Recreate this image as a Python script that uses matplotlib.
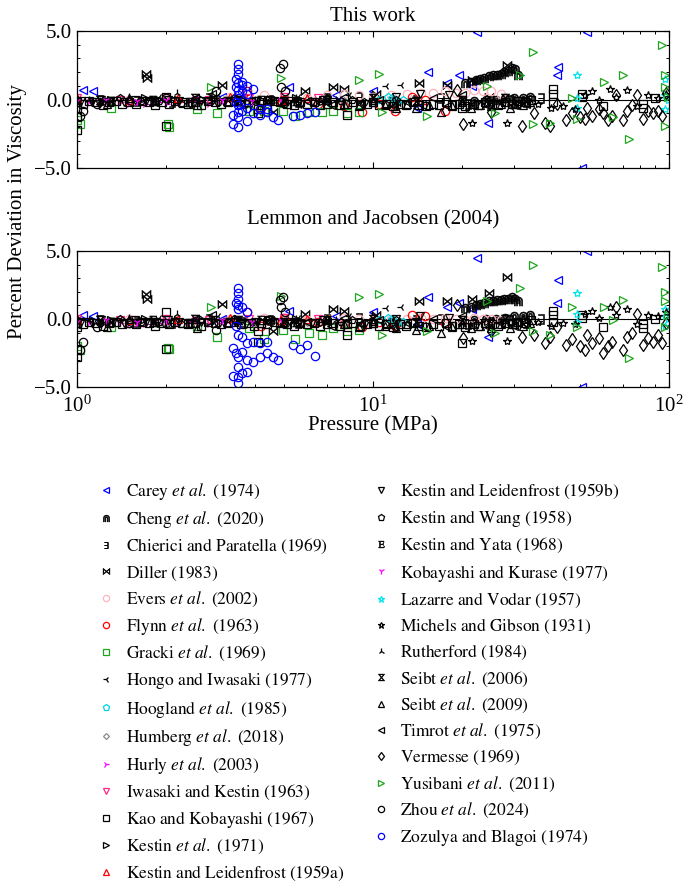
import matplotlib
matplotlib.use("Agg")
import matplotlib.pyplot as plt
from matplotlib.markers import MarkerStyle
from matplotlib.transforms import Affine2D
from matplotlib.ticker import MultipleLocator, FuncFormatter, LogLocator, NullFormatter

plt.rcParams['font.family'] = ['Liberation Serif', 'DejaVu Serif']
plt.rcParams['mathtext.fontset'] = 'stix'

# pressure (MPa) and percent deviations: tw = this work, lj = Lemmon and Jacobsen (2004)
carey_p = [1.05, 1.13, 3.1, 5.2, 7.5, 10.0, 14.1, 15.4, 17.8, 19.5, 21.6, 22.5, 24.5, 42.0, 42.2, 50.8, 52.8]
carey_tw = [0.7, 0.6, 0.2, 0.9, 0.3, 0.6, -0.6, 2.0, 1.2, 1.8, 1.0, 4.9, -1.7, 1.8, 2.4, -5.0, 4.9]
carey_lj = [0.3, 0.2, 0.0, 0.6, 0.2, 0.5, -0.4, 1.6, 0.9, 1.2, 0.7, 4.5, -1.3, 1.2, 2.9, -5.0, 5.0]

cheng_p = [20.5, 21.5, 22.3, 23.0, 23.8, 24.6, 25.4, 26.2, 27.0, 27.8, 28.6, 29.4, 30.2, 31.0,
           20.0, 22.0, 24.0, 26.0, 28.0, 30.0, 32.0, 34.0]
cheng_tw = [1.2, 1.3, 1.4, 1.5, 1.6, 1.7, 1.8, 1.8, 1.9, 2.0, 2.1, 2.3, 2.2, 1.8,
            -0.1, -0.1, 0.0, 0.0, 0.1, 0.1, 0.1, 0.2]
cheng_lj = [0.8, 0.9, 1.0, 1.1, 1.2, 1.3, 1.3, 1.4, 1.4, 1.5, 1.5, 1.6, 1.5, 1.3,
            -0.2, -0.1, 0.0, 0.0, 0.1, 0.2, 0.2, 0.3]

chierici_p = [1.2, 1.6, 2.1, 2.8, 3.6, 4.5, 5.6, 7.0, 9.0, 11.5, 14.0, 17.0, 21.0, 25.0, 29.0, 33.0, 37.0]
chierici_tw = [0.0, -0.1, -0.2, 0.1, -0.1, 0.0, -0.2, 0.1, 0.2, -0.2, 0.0, 0.1, -0.3, -0.1, 0.0, -0.2, 0.1]
chierici_lj = [-0.1, -0.2, -0.3, 0.0, -0.2, -0.1, -0.3, 0.0, 0.1, -0.3, -0.1, 0.0, -0.4, -0.2, -0.1, -0.3, 0.0]

diller_p = [1.71, 1.73, 3.09, 4.6, 5.9, 7.3, 8.0, 10.2, 12.0, 14.3, 17.8, 21.6, 24.7, 28.3, 30.5]
diller_tw = [1.9, 1.6, 1.1, -0.9, 0.6, 0.9, 0.8, 0.4, -0.2, 1.2, 1.1, 1.4, 0.2, 2.5, -0.4]
diller_lj = [1.8, 1.5, 1.1, -0.9, 0.4, 0.7, 0.6, 0.3, -0.2, 1.3, 1.3, 1.5, 1.9, 3.1, -0.3]

evers_p = [1.5, 2.0, 2.5, 3.3, 4.3, 5.0, 6.0, 7.0, 8.0, 9.0, 10.0, 11.5, 13.0, 14.5, 16.0, 17.5, 19.0,
           20.5, 22.0, 23.5, 25.0, 27.0]
evers_tw = [0.0, 0.1, 0.0, 0.2, 0.3, 0.2, 0.1, 0.3, 0.4, 0.3, 0.2, 0.3, 0.4, 0.5, 0.5, 0.6, 0.5,
            0.5, 0.7, 0.6, 0.6, 0.4]
evers_lj = [0.0, 0.0, -0.1, 0.0, 0.1, 0.0, -0.1, 0.0, 0.1, 0.0, -0.1, 0.0, 0.0, 0.1, 0.0, 0.1, 0.0,
            -0.1, 0.1, 0.0, 0.0, -0.1]

flynn_p = [3.75, 4.2, 5.0, 6.5, 8.0, 9.2, 10.5, 11.9, 13.5, 15.0, 17.5]
flynn_tw = [0.6, -0.6, 0.0, -0.3, -0.5, -0.9, -0.3, -0.8, 0.2, 0.0, -0.8]
flynn_lj = [0.5, -0.5, 0.1, -0.2, -0.4, -0.6, -0.2, -0.5, 0.3, 0.2, -0.3]

gracki_p = [1.0, 1.02, 1.30, 2.03, 2.05, 2.55, 2.97, 3.80, 4.3, 4.95, 5.45, 6.1, 6.7, 7.3, 8.2, 9.0]
gracki_tw = [-1.5, -1.8, -0.6, -1.8, -2.0, -0.7, -1.0, -0.8, -0.8, -0.8, -1.2, -0.9, -0.9, -0.8, -1.0, -0.9]
gracki_lj = [-2.0, -2.3, -0.6, -2.1, -2.2, -0.5, -1.3, -0.7, -1.5, -0.8, -1.5, -1.0, -1.2, -0.7, -0.9, -0.8]

hongo_p = [1.1, 1.4, 1.9, 2.4, 3.0, 3.7, 4.6, 5.6, 6.8, 8.3, 10.0, 11.1, 12.4]
hongo_tw = [-0.1, 0.0, 0.2, -0.1, 0.3, 0.1, 0.0, 0.2, -0.2, 0.3, 0.1, 1.0, 1.1]
hongo_lj = [-0.1, 0.0, 0.1, -0.2, 0.2, 0.0, -0.1, 0.1, -0.2, 0.2, 0.1, 0.8, 0.9]

hoogland_p = [10.5, 11.2, 11.6, 12.0, 12.6]
hoogland_tw = [0.0, 0.2, 0.1, -0.1, 0.0]
hoogland_lj = [-0.1, 0.1, 0.0, -0.3, -0.2]

humberg_p = [1.0, 1.5, 2.0, 2.5, 3.0, 4.0, 5.0, 6.0, 7.0, 8.0]
humberg_tw = [-0.1, -0.1, 0.0, -0.2, -0.1, 0.0, -0.1, 0.0, 0.1, -0.1]
humberg_lj = [-0.3, -0.4, -0.3, -0.4, -0.3, -0.2, -0.3, -0.2, -0.1, -0.3]

hurly_p = [1.0, 1.1, 1.2, 1.3, 1.4, 1.5, 1.6, 1.7, 1.8, 1.9, 2.0, 2.2, 2.4, 2.6, 2.8, 3.0, 3.2]
hurly_tw = [-0.3, -0.2, -0.3, -0.1, -0.2, -0.3, -0.2, -0.3, -0.1, -0.2, -0.3, -0.2, -0.1, -0.2, -0.3, -0.2, -0.1]
hurly_lj = [-0.4, -0.3, -0.4, -0.2, -0.3, -0.4, -0.3, -0.4, -0.2, -0.3, -0.4, -0.3, -0.2, -0.3, -0.4, -0.3, -0.2]

iwasaki_p = [1.0, 1.4, 2.0, 2.8, 3.8, 5.0, 6.5]
iwasaki_tw = [0.1, 0.0, 0.1, 0.0, 0.1, 0.2, 0.1]
iwasaki_lj = [0.0, -0.1, 0.0, -0.1, 0.0, 0.1, 0.0]

kao_p = [1.00, 1.05, 1.10, 1.16, 1.22, 1.28, 1.35, 1.42, 1.50, 1.58,
         1.66, 1.75, 1.84, 1.94, 2.04, 2.15, 2.26, 2.38, 2.50, 2.63,
         2.77, 2.92, 3.07, 3.23, 3.40, 3.58, 3.77, 3.97, 4.18, 4.40,
         4.63, 4.87, 5.13, 5.40, 5.68, 5.98, 6.30, 6.63, 6.98, 7.35,
         7.74, 8.15, 8.58, 9.03, 9.51, 10.0, 10.5, 11.1, 11.7, 12.3,
         12.9, 13.6, 14.3, 15.1, 15.9, 16.7, 17.6, 18.5, 19.5, 20.5,
         21.6, 22.7, 23.9, 25.2, 26.5, 27.9, 29.4, 30.9, 32.5, 34.2,
         1.0, 1.0, 1.0, 2.0, 2.0, 4.1, 4.1, 8.2, 20.0,
         40.7, 40.7, 40.7, 50.8, 50.8, 60.0, 81.5, 81.5, 90.0]
kao_tw = [-0.2, -0.3, -0.1, -0.2, -0.4, -0.2, -0.1, -0.3, -0.2, -0.3,
          -0.1, -0.2, -0.4, -0.2, -0.3, -0.1, -0.2, -0.3, -0.2, -0.4,
          -0.1, -0.2, -0.3, -0.2, -0.1, -0.3, -0.2, -0.4, -0.2, -0.3,
          -0.1, -0.2, -0.3, -0.4, -0.2, -0.3, -0.2, -0.4, -0.3, -0.2,
          -0.4, -0.3, -0.2, -0.4, -0.3, -0.2, -0.4, -0.3, -0.5, -0.3,
          -0.4, -0.2, -0.4, -0.5, -0.3, -0.4, -0.2, -0.4, -0.3, -0.5,
          -0.3, -0.4, -0.2, -0.3, -0.4, -0.2, -0.3, -0.1, -0.2, 0.0,
          -0.6, -1.3, -2.2, -1.9, 0.2, -0.7, -1.0, -1.1, -0.6,
          0.8, 0.4, -0.2, 0.4, 0.2, -0.5, -0.3, -0.6, 0.1]
kao_lj = [-0.3, -0.4, -0.2, -0.3, -0.5, -0.3, -0.2, -0.4, -0.3, -0.4,
          -0.2, -0.3, -0.5, -0.3, -0.4, -0.2, -0.3, -0.4, -0.3, -0.5,
          -0.2, -0.3, -0.4, -0.3, -0.2, -0.4, -0.3, -0.5, -0.3, -0.4,
          -0.2, -0.3, -0.4, -0.5, -0.3, -0.4, -0.3, -0.5, -0.4, -0.3,
          -0.5, -0.4, -0.3, -0.5, -0.4, -0.3, -0.5, -0.4, -0.6, -0.4,
          -0.5, -0.3, -0.5, -0.6, -0.4, -0.5, -0.3, -0.5, -0.4, -0.6,
          -0.4, -0.5, -0.3, -0.4, -0.5, -0.3, -0.4, -0.2, -0.3, -0.1,
          -0.6, -2.2, -2.8, -2.2, 0.5, -1.7, -0.9, -1.2, -1.8,
          0.6, 0.3, -0.2, 0.3, 0.1, -0.6, -0.4, -0.7, 0.0]

kestin71_p = [1.0, 1.3, 1.7, 2.2, 2.8, 3.5, 4.5, 5.5, 6.8]
kestin71_tw = [-0.1, 0.0, 0.1, 0.0, -0.1, 0.1, 0.0, 0.1, -0.1]
kestin71_lj = [-0.2, -0.1, 0.0, -0.1, -0.2, 0.0, -0.1, 0.0, -0.2]

kl59a_p = [1.0, 1.5, 2.2, 3.3, 4.9, 6.0]
kl59a_tw = [0.1, 0.0, 0.1, 0.2, 0.0, 0.1]
kl59a_lj = [0.0, -0.1, 0.0, 0.1, -0.1, 0.0]

kl59b_p = [1.03, 1.12, 1.21, 1.32, 1.44, 1.57, 1.71, 1.86, 2.03, 2.21,
           2.41, 2.63, 2.87, 3.13, 3.41, 3.72, 4.05, 4.42, 4.82, 5.25,
           5.72, 6.24, 6.80, 12.0, 14.4, 18.0]
kl59b_tw = [-0.1, -0.2, 0.0, -0.1, -0.2, 0.0, -0.1, -0.2, 0.0, -0.1,
            -0.3, -0.1, 0.0, -0.2, -0.1, -0.3, -0.1, 0.0, -0.2, -0.1,
            -0.3, -0.2, 0.0, 0.2, 0.4, 0.3]
kl59b_lj = [-0.2, -0.3, -0.1, -0.2, -0.3, -0.1, -0.2, -0.3, -0.1, -0.2,
            -0.4, -0.2, -0.1, -0.3, -0.2, -0.4, -0.2, -0.1, -0.3, -0.2,
            -0.4, -0.3, -0.1, 0.0, 0.2, 0.1]

kwang_p = [1.0, 1.2, 1.4, 1.65, 1.9, 2.25, 2.6, 3.0, 3.4, 3.9, 4.4, 5.0, 5.6, 6.3, 7.0, 7.8, 8.5, 9.3, 10.0, 11.0, 12.0]
kwang_tw = [0.0, -0.2, 0.1, -0.1, -0.1, -0.3, 0.0, -0.2, 0.1, -0.1, 0.0, -0.3, -0.1, -0.2, 0.1, -0.1, 0.0, -0.2, -0.1, -0.3, 0.0]
kwang_lj = [-0.1, -0.3, 0.0, -0.2, -0.2, -0.4, -0.1, -0.3, 0.0, -0.2, -0.1, -0.4, -0.2, -0.3, 0.0, -0.2, -0.1, -0.3, -0.2, -0.4, -0.1]

kyata_p = [1.0, 1.3, 1.8, 2.4, 3.2, 4.2, 5.5]
kyata_tw = [-0.2, -0.1, 0.0, -0.2, -0.1, 0.0, -0.1]
kyata_lj = [-0.3, -0.2, -0.1, -0.3, -0.2, -0.1, -0.2]

kobayashi_p = [1.0, 1.25, 1.6, 2.0, 2.5, 3.1, 3.9, 4.9]
kobayashi_tw = [-0.1, 0.0, -0.1, 0.0, 0.1, 0.0, -0.1, 0.0]
kobayashi_lj = [-0.2, -0.1, -0.2, -0.1, 0.0, -0.1, -0.2, -0.1]

lazarre_p = [48.8, 48.8, 48.8, 97.0, 97.0, 97.0, 99.5]
lazarre_tw = [1.8, 0.1, -0.6, 1.5, 0.3, -0.7, 0.0]
lazarre_lj = [1.9, 0.4, -0.2, 0.7, 0.2, -0.5, 0.0]

michels_p = [21.6, 24.0, 28.3, 32.0, 36.0, 40.0, 44.0, 48.0, 52.0, 55.0, 58.0, 63.0, 66.0, 72.0, 78.0, 85.0, 92.0, 98.0]
michels_tw = [-1.7, -0.3, -1.7, -0.1, -0.3, -0.6, -0.5, -0.7, 0.3, 0.6, 0.0, 0.8, 0.2, 0.7, -0.5, 0.3, 0.1, 0.4]
michels_lj = [-1.6, -0.2, -1.6, 0.0, -0.2, -0.5, -0.3, -0.4, 0.4, 0.6, 0.1, 0.9, 0.3, 0.7, -0.4, 0.3, 0.2, 0.5]

rutherford_p = [1.1, 1.5, 2.17, 2.9, 4.0, 5.5, 7.5]
rutherford_tw = [0.0, 0.2, 0.5, 0.0, -0.1, 0.1, 0.0]
rutherford_lj = [-0.1, 0.1, 0.4, -0.1, -0.2, 0.0, -0.1]

seibt06_p = [1.2, 1.8, 2.5, 3.5, 5.0, 7.0, 10.0, 14.0, 20.0, 28.0]
seibt06_tw = [0.0, -0.1, 0.1, 0.0, -0.1, 0.0, 0.1, -0.1, 0.0, 0.1]
seibt06_lj = [-0.1, -0.2, 0.0, -0.1, -0.2, -0.1, 0.0, -0.2, -0.1, 0.0]

seibt09_p = [1.26, 1.5, 2.55, 3.5, 5.0, 7.0, 8.0, 9.0, 10.0, 11.0, 12.0, 13.0, 14.0, 15.5, 17.0, 18.5,
             20.0, 21.5, 23.0, 25.0, 27.0, 29.0, 30.0, 32.0, 34.0]
seibt09_tw = [-0.3, 0.1, -0.4, 0.0, -0.1, 0.1, -0.3, -0.5, -0.2, -0.4, -0.6, -0.3, -0.6, -0.4, -0.9, -0.5,
              -0.2, -0.6, -0.4, -0.5, -0.3, -0.6, -0.3, -0.4, -0.2]
seibt09_lj = [-0.6, 0.0, -0.7, -0.1, -0.2, 0.0, -0.4, -0.6, -0.3, -0.5, -0.7, -0.4, -0.8, -0.5, -1.0, -0.6,
              -0.4, -0.7, -0.5, -0.7, -0.4, -0.7, -0.4, -0.5, -0.3]

timrot_p = [1.5, 2.5, 2.85, 4.5, 6.0, 7.2, 8.0, 9.1, 10.5, 11.8, 13.0, 14.6, 16.0, 17.8, 20.0, 22.0, 24.5, 27.0, 30.0, 33.0]
timrot_tw = [-0.2, 0.1, 0.4, 0.0, -0.1, -0.4, 0.2, -0.3, 0.0, -0.5, -0.2, -0.4, 0.1, -0.5, 0.3, -0.3, -0.5, -0.2, -0.4, -0.3]
timrot_lj = [-0.3, 0.0, 0.3, -0.1, -0.2, -0.5, 0.1, -0.4, -0.1, -0.6, -0.3, -0.5, 0.0, -0.6, 0.2, -0.4, -0.6, -0.3, -0.5, -0.4]

vermesse_p = [19.2, 20.1, 25.0, 31.9, 35.0, 38.0, 39.6, 42.0, 45.0, 47.0, 50.0, 52.0, 53.0, 55.0, 58.0,
              60.0, 62.0, 64.0, 66.0, 70.0, 72.0, 75.0, 78.0, 82.0, 85.0, 88.0, 92.0, 95.0, 98.0]
vermesse_tw = [0.7, -1.8, -0.9, -1.9, -1.0, -1.7, -1.9, -0.3, -1.5, -1.0, -1.3, -1.4, -0.6, -1.2, -0.7,
               -1.0, -1.5, -1.2, 0.3, -1.5, -0.8, -0.4, 0.3, -1.4, -0.8, -1.0, -0.8, -1.2, 0.5]
vermesse_lj = [1.0, -1.4, -0.9, -1.3, -1.2, -1.8, -1.3, -0.6, -1.9, -1.5, -2.0, -2.3, -1.2, -1.8, -1.4,
               -2.5, -2.0, -1.7, 0.9, -2.3, -1.3, -1.0, 0.4, -1.9, -1.4, -1.7, -1.2, -1.8, -0.3]

yusibani_p = [2.83, 4.9, 9.0, 10.5, 10.7, 15.2, 24.3, 25.8, 31.3, 34.6, 34.6, 39.6, 47.0, 48.8, 60.5,
              64.5, 70.0, 73.5, 94.5, 97.0, 97.0, 97.0, 99.0]
yusibani_tw = [0.9, 1.6, 1.4, 1.9, -0.9, -1.2, 1.0, -1.0, 1.8, 3.5, -1.8, -1.7, 0.1, -1.4, 1.3,
               -1.3, 1.8, -2.9, 4.0, 1.8, 0.9, -1.9, 0.2]
yusibani_lj = [0.9, 1.7, 1.6, 1.8, -1.2, -0.9, 1.3, -1.0, 2.3, 4.0, -0.9, -1.2, 0.9, -0.6, 0.9,
               -0.1, 1.4, -2.9, 3.8, 2.0, 1.3, -0.6, 0.3]

zhou_p = [1.02, 1.05, 1.17, 2.0, 2.95, 4.85, 4.95, 4.9, 5.05]
zhou_tw = [-1.2, -0.8, -0.3, 0.1, 0.6, 2.3, 2.6, 0.9, 0.6]
zhou_lj = [-2.3, -1.7, -0.6, -0.3, -0.8, 1.4, 1.6, 0.9, 0.5]

zozulya_p = [3.37, 3.37, 3.45, 3.45, 3.45, 3.5, 3.5, 3.5, 3.5, 3.5, 3.5, 3.5, 3.5, 3.5, 3.5,
             3.62, 3.62, 3.62, 3.62, 3.75, 3.75, 3.75, 3.75, 3.94, 3.94, 4.15, 4.15, 4.37, 4.37,
             4.6, 4.78, 5.37, 5.66, 6.0, 6.36]
zozulya_tw = [-1.8, -1.1, 1.5, 0.9, -0.2, 2.6, 2.2, 1.9, 1.2, 0.7, 0.3, -0.4, -0.9, -1.3, -2.0,
              1.3, 1.1, 0.6, -0.8, 1.0, 0.4, -0.6, -1.6, 0.8, -1.0, -0.7, -1.1, -0.7, -0.9,
              -1.3, -1.5, -1.2, -1.1, -1.0, -0.9]
zozulya_lj = [-2.1, -4.2, 1.2, -0.5, -2.5, 2.3, 1.9, 1.5, 1.0, 0.7, -1.2, -2.8, -3.5, -4.3, -4.7,
              0.9, -1.3, -2.4, -4.0, 0.5, -1.8, -3.0, -3.9, -1.7, -3.2, -1.8, -2.8, -1.7, -2.5,
              -2.8, -3.0, -1.9, -2.2, -1.9, -2.7]


def lbl(name, year, etal=False):
    # whole label in mathtext so every legend row gets the same height
    s = r'\mathrm{' + name.replace(' ', r'\ ') + '}'
    if etal:
        s += r'\ et\ al.'
    return '$' + s + r'\ \mathrm{(' + year + ')}$'


hourglass = MarkerStyle(r'$\bowtie$', transform=Affine2D().rotate_deg(90))

sets = [
    (lbl('Carey', '1974', True), carey_p, carey_tw, carey_lj, '<', 'blue'),
    (lbl('Cheng', '2020', True), cheng_p, cheng_tw, cheng_lj, r'$\Cap$', 'black'),
    (lbl('Chierici and Paratella', '1969'), chierici_p, chierici_tw, chierici_lj, r'$\exists$', 'black'),
    (lbl('Diller', '1983'), diller_p, diller_tw, diller_lj, r'$\bowtie$', 'black'),
    (lbl('Evers', '2002', True), evers_p, evers_tw, evers_lj, 'o', '#ffb3bd'),
    (lbl('Flynn', '1963', True), flynn_p, flynn_tw, flynn_lj, 'o', 'red'),
    (lbl('Gracki', '1969', True), gracki_p, gracki_tw, gracki_lj, 's', '#1fa51f'),
    (lbl('Hongo and Iwasaki', '1977'), hongo_p, hongo_tw, hongo_lj, '3', 'black'),
    (lbl('Hoogland', '1985', True), hoogland_p, hoogland_tw, hoogland_lj, 'p', '#00d5e0'),
    (lbl('Humberg', '2018', True), humberg_p, humberg_tw, humberg_lj, 'D', '#8a8a8a'),
    (lbl('Hurly', '2003', True), hurly_p, hurly_tw, hurly_lj, '4', 'magenta'),
    (lbl('Iwasaki and Kestin', '1963'), iwasaki_p, iwasaki_tw, iwasaki_lj, 'v', '#ff2a8a'),
    (lbl('Kao and Kobayashi', '1967'), kao_p, kao_tw, kao_lj, 's', 'black'),
    (lbl('Kestin', '1971', True), kestin71_p, kestin71_tw, kestin71_lj, '>', 'black'),
    (lbl('Kestin and Leidenfrost', '1959a'), kl59a_p, kl59a_tw, kl59a_lj, '^', 'red'),
    (lbl('Kestin and Leidenfrost', '1959b'), kl59b_p, kl59b_tw, kl59b_lj, 'v', 'black'),
    (lbl('Kestin and Wang', '1958'), kwang_p, kwang_tw, kwang_lj, 'p', 'black'),
    (lbl('Kestin and Yata', '1968'), kyata_p, kyata_tw, kyata_lj, r'$\mathrm{E}$', 'black'),
    (lbl('Kobayashi and Kurase', '1977'), kobayashi_p, kobayashi_tw, kobayashi_lj, '1', 'magenta'),
    (lbl('Lazarre and Vodar', '1957'), lazarre_p, lazarre_tw, lazarre_lj, '*', '#00e5ee'),
    (lbl('Michels and Gibson', '1931'), michels_p, michels_tw, michels_lj, '*', 'black'),
    (lbl('Rutherford', '1984'), rutherford_p, rutherford_tw, rutherford_lj, '2', 'black'),
    (lbl('Seibt', '2006', True), seibt06_p, seibt06_tw, seibt06_lj, hourglass, 'black'),
    (lbl('Seibt', '2009', True), seibt09_p, seibt09_tw, seibt09_lj, '^', 'black'),
    (lbl('Timrot', '1975', True), timrot_p, timrot_tw, timrot_lj, '<', 'black'),
    (lbl('Vermesse', '1969'), vermesse_p, vermesse_tw, vermesse_lj, 'd', 'black'),
    (lbl('Yusibani', '2011', True), yusibani_p, yusibani_tw, yusibani_lj, '>', '#1fa51f'),
    (lbl('Zhou', '2024', True), zhou_p, zhou_tw, zhou_lj, 'o', 'black'),
    (lbl('Zozulya and Blagoi', '1974'), zozulya_p, zozulya_tw, zozulya_lj, 'o', 'blue'),
]

fig = plt.figure(figsize=(6.83, 8.89), dpi=100)
ax1 = fig.add_axes([0.1127, 0.811, 0.8668, 0.154])
ax2 = fig.add_axes([0.1127, 0.5647, 0.8668, 0.153])

handles = []
for label, p, tw, lj, mk, col in sets:
    glyph = isinstance(mk, MarkerStyle) or mk.startswith('$')
    if glyph:
        # text markers: solid glyph with a thin outline
        kw = dict(ms=6.5, mfc=col, mec=col, mew=0.4)
    elif mk == 'D':
        kw = dict(ms=4, mfc='none', mec=col, mew=0.9)
    else:
        kw = dict(ms=6, mfc='none', mec=col, mew=0.9)
    h, = ax1.plot(p, tw, ls='none', marker=mk, label=label, **kw)
    ax2.plot(p, lj, ls='none', marker=mk, **kw)
    handles.append(h)

fmt = FuncFormatter(lambda v, pos: f'{v:.1f}'.replace('-', '\u2212'))
for ax in (ax1, ax2):
    ax.axhline(0, color='black', lw=0.8, zorder=0)
    ax.set_xscale('log')
    ax.set_xlim(1, 100)
    ax.set_ylim(-5, 5)
    ax.yaxis.set_major_locator(MultipleLocator(5))
    ax.yaxis.set_minor_locator(MultipleLocator(1))
    ax.yaxis.set_major_formatter(fmt)
    ax.xaxis.set_major_locator(LogLocator(base=10))
    ax.xaxis.set_minor_locator(LogLocator(base=10, subs=range(2, 10)))
    ax.xaxis.set_minor_formatter(NullFormatter())
    ax.tick_params(which='both', direction='in', top=True, right=True, labelsize=15)
    ax.tick_params(which='major', length=4.5, width=0.8)
    ax.tick_params(which='minor', length=2.5, width=0.7)
    ax.tick_params(axis='x', pad=6)
    for s in ax.spines.values():
        s.set_linewidth(0.9)

ax1.tick_params(labelbottom=False)
ax1.set_title('This work', fontsize=15, pad=7)
ax2.set_title('Lemmon and Jacobsen (2004)', fontsize=15, pad=19)
ax2.set_xlabel('Pressure (MPa)', fontsize=15, labelpad=0)
fig.text(0.025, 0.762, 'Percent Deviation in Viscosity', rotation=90, fontsize=15,
         ha='center', va='center')

fig.legend(handles=handles, loc='upper left', bbox_to_anchor=(0.142, 0.459), ncol=2,
           frameon=False, fontsize=12.5, markerscale=0.75, handlelength=1.0,
           handletextpad=0.65, columnspacing=1.6, labelspacing=0.41,
           borderpad=0, borderaxespad=0)

fig.savefig('out.png', dpi=100)
